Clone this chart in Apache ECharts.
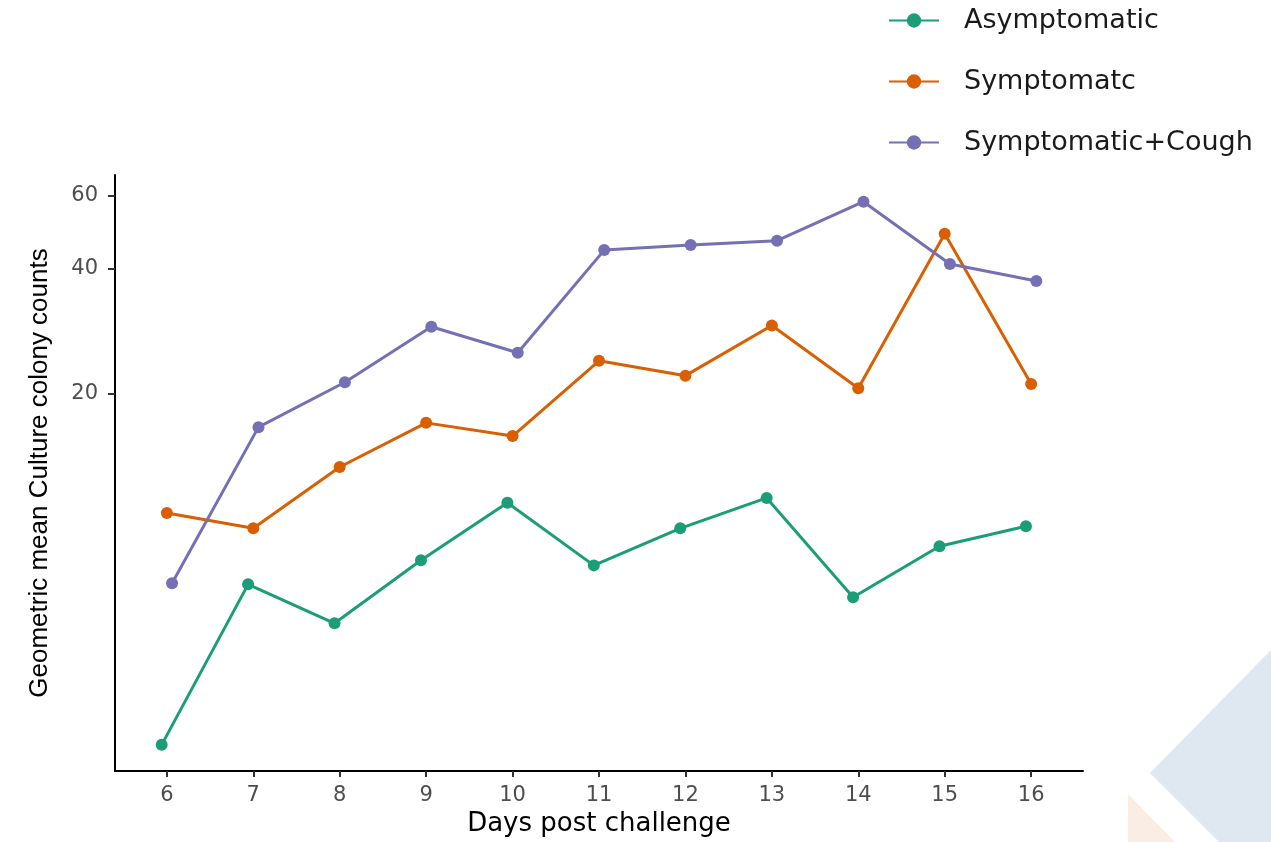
<!DOCTYPE html>
<html>
<head>
<meta charset="utf-8">
<script src="https://cdn.jsdelivr.net/npm/echarts@6/dist/echarts.min.js"></script>
<style>html,body{margin:0;padding:0;background:#fff}#c{width:1271px;height:842px}</style>
</head>
<body>
<div id="c"></div>
<script>
const days = [6, 7, 8, 9, 10, 11, 12, 13, 14, 15, 16];
const seriesNames = ['Asymptomatic', 'Symptomatc', 'Symptomatic+Cough'];
const asymptomatic = [2.84, 6.93, 5.58, 7.92, 10.9, 7.7, 9.46, 11.2, 6.45, 8.56, 9.57];
const symptomatic = [10.3, 9.46, 13.3, 17.0, 15.8, 24.0, 22.1, 29.2, 20.6, 48.6, 21.1];
const symptomaticCough = [6.97, 16.6, 21.3, 29.0, 25.1, 44.4, 45.7, 46.8, 58.1, 41.1, 37.4];
const yTicks = [20, 40, 60];
const colors = ['#1b9e77', '#d95f02', '#7570b3'];
const dodge = [-0.06, 0, 0.06];

const all = [asymptomatic, symptomatic, symptomaticCough];
const chart = echarts.init(document.getElementById('c'), null, {renderer: 'canvas'});
const series = all.map((vals, i) => ({
  name: seriesNames[i],
  type: 'line',
  data: vals.map((v, j) => [days[j] + dodge[i], v]),
  symbol: 'circle',
  symbolSize: 12,
  lineStyle: {width: 3, color: colors[i]},
  itemStyle: {color: colors[i]},
  z: 3
}));

const wideFont = 'DejaVu Sans, Liberation Sans, sans-serif';

chart.setOption({
  animation: false,
  textStyle: {fontFamily: 'Liberation Sans, Arial, sans-serif'},
  graphic: [
    {type: 'polygon', z: -10, shape: {points: [[1150, 773], [1271, 650], [1271, 842], [1219, 842]]}, style: {fill: '#dfe7f1'}},
    {type: 'polygon', z: -10, shape: {points: [[1128, 794], [1175, 842], [1128, 842]]}, style: {fill: '#faede3'}}
  ],
  legend: {
    orient: 'vertical',
    left: 883,
    top: 2,
    itemWidth: 50,
    itemHeight: 18,
    itemGap: 34,
    data: seriesNames,
    textStyle: {fontSize: 27, fontFamily: wideFont, color: '#1a1a1a', padding: [0, 0, 0, 20]}
  },
  grid: {left: 115, right: 188, top: 175, bottom: 70, containLabel: false},
  xAxis: {
    type: 'value',
    min: 5.4,
    max: 16.6,
    name: 'Days post challenge',
    nameLocation: 'middle',
    nameGap: 40,
    nameTextStyle: {fontSize: 26, fontFamily: wideFont, color: '#000'},
    axisLine: {onZero: false, lineStyle: {color: '#000', width: 2}},
    axisTick: {show: true, length: 6, lineStyle: {color: '#333', width: 2}, customValues: days},
    axisLabel: {fontSize: 21, fontFamily: wideFont, color: '#4d4d4d', margin: 14, customValues: days},
    splitLine: {show: false}
  },
  yAxis: {
    type: 'log',
    logBase: 10,
    min: 2.456,
    max: 67.4,
    name: 'Geometric mean Culture colony counts',
    nameLocation: 'middle',
    nameGap: 62,
    nameTextStyle: {fontSize: 26, color: '#000'},
    axisLine: {show: true, lineStyle: {color: '#000', width: 2}},
    axisTick: {show: true, length: 7, lineStyle: {color: '#333', width: 2}, customValues: yTicks},
    axisLabel: {fontSize: 21, fontFamily: wideFont, color: '#4d4d4d', margin: 17, customValues: yTicks},
    splitLine: {show: false}
  },
  series: series
});
</script>
</body>
</html>
